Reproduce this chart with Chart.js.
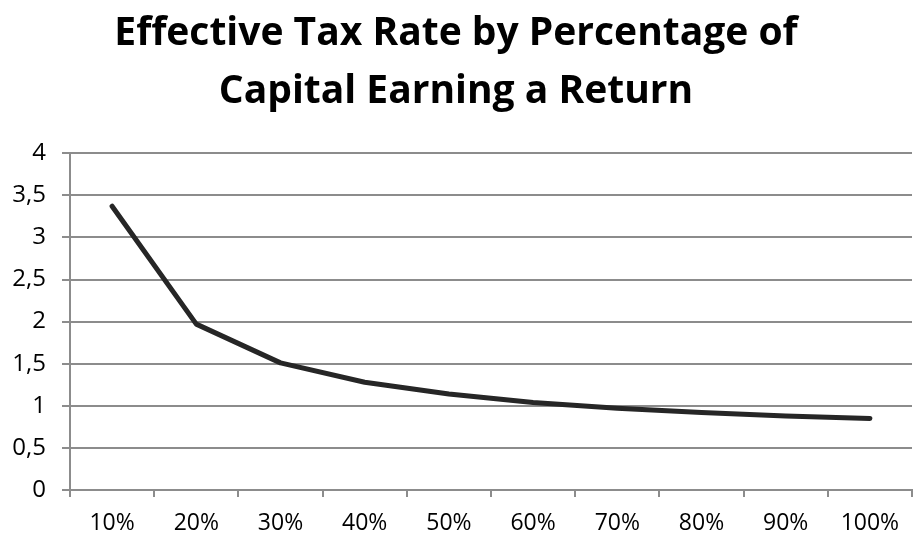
<!DOCTYPE html>
<html><head><meta charset="utf-8">
<script src="https://cdn.jsdelivr.net/npm/chart.js@4/dist/chart.umd.min.js"></script>
<style>html,body{margin:0;padding:0;background:#fff;}canvas{display:block;}</style>
</head><body>
<canvas id="c" width="918" height="538"></canvas>
<script>
const categories = ['10%','20%','30%','40%','50%','60%','70%','80%','90%','100%'];
const effectiveRate = [3.37, 1.97, 1.51, 1.28, 1.14, 1.04, 0.97, 0.92, 0.88, 0.85];
const titleLines = ['Effective Tax Rate by Percentage of', 'Capital Earning a Return'];
const yMin = 0, yMax = 4, yStep = 0.5;

const GRID = '#8c8c8c';
new Chart(document.getElementById('c'), {
  type: 'line',
  data: {
    labels: categories,
    datasets: [{
      data: effectiveRate,
      borderColor: '#262626',
      borderWidth: 5,
      pointRadius: 0,
      tension: 0,
      borderCapStyle: 'round',
      borderJoinStyle: 'round',
      fill: false
    }]
  },
  options: {
    responsive: false,
    animation: false,
    layout: { padding: { left: 0, right: 6, top: 0, bottom: 0 } },
    plugins: {
      legend: { display: false },
      tooltip: { enabled: false },
      title: {
        display: true,
        text: titleLines,
        color: '#000',
        font: { family: 'Open Sans', size: 39, weight: 'bold', lineHeight: 1.49 },
        padding: { top: 5, bottom: 32 }
      }
    },
    scales: {
      x: {
        type: 'category',
        offset: true,
        grid: { offset: true, drawOnChartArea: false, drawTicks: true, tickLength: 7, color: GRID, lineWidth: 2 },
        border: { display: true, color: GRID, width: 2 },
        ticks: { color: '#000', font: { family: 'Open Sans', size: 23 }, padding: 13, maxRotation: 0, autoSkip: false },
        afterFit: s => { s.height = 48; }
      },
      y: {
        min: yMin, max: yMax,
        ticks: {
          stepSize: yStep, color: '#000', padding: 16,
          font: { family: 'Open Sans', size: 24 },
          callback: v => String(v).replace('.', ',')
        },
        grid: { color: GRID, lineWidth: 2, drawTicks: true, tickLength: 8 },
        border: { display: true, color: GRID, width: 2 },
        afterFit: s => { s.width = 70; }
      }
    }
  }
});
</script>
</body></html>
